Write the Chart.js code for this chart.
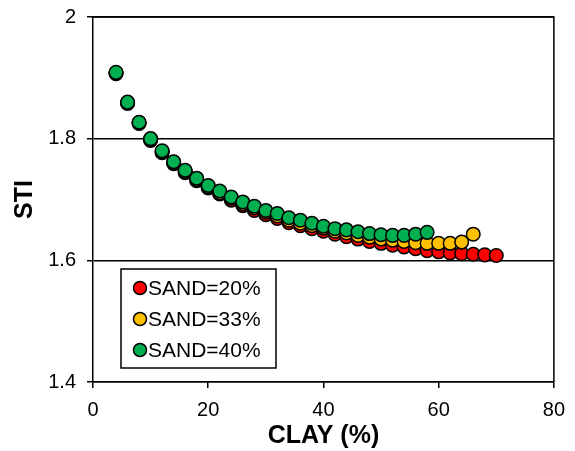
<!DOCTYPE html>
<html>
<head>
<meta charset="utf-8">
<script src="https://cdn.jsdelivr.net/npm/chart.js@4/dist/chart.umd.min.js"></script>
<style>
  body { margin: 0; background: #fff; }
</style>
</head>
<body>
<canvas id="stiChart" width="575" height="451"></canvas>
<script>
// CLAY (%) values per series
var clay20 = [4, 6, 8, 10, 12, 14, 16, 18, 20, 22, 24, 26, 28, 30, 32, 34, 36, 38, 40, 42, 44, 46, 48, 50, 52, 54, 56, 58, 60, 62, 64, 66, 68, 70];
var clay33 = [4, 6, 8, 10, 12, 14, 16, 18, 20, 22, 24, 26, 28, 30, 32, 34, 36, 38, 40, 42, 44, 46, 48, 50, 52, 54, 56, 58, 60, 62, 64, 66];
var clay40 = [4, 6, 8, 10, 12, 14, 16, 18, 20, 22, 24, 26, 28, 30, 32, 34, 36, 38, 40, 42, 44, 46, 48, 50, 52, 54, 56, 58];

// STI values
var sti20 = [1.907, 1.858, 1.825, 1.797, 1.777, 1.759, 1.744, 1.731, 1.719, 1.709, 1.699, 1.690, 1.682, 1.675, 1.669, 1.662, 1.657, 1.652, 1.648, 1.643, 1.639, 1.635, 1.631, 1.628, 1.625, 1.622, 1.619, 1.616, 1.614, 1.612, 1.611, 1.610, 1.609, 1.608];
var sti33 = [1.908, 1.859, 1.826, 1.799, 1.779, 1.761, 1.746, 1.733, 1.721, 1.711, 1.702, 1.693, 1.686, 1.679, 1.673, 1.666, 1.661, 1.657, 1.653, 1.648, 1.645, 1.641, 1.638, 1.635, 1.633, 1.631, 1.629, 1.628, 1.628, 1.628, 1.630, 1.643];
var sti40 = [1.909, 1.860, 1.827, 1.800, 1.780, 1.762, 1.748, 1.735, 1.723, 1.714, 1.704, 1.696, 1.689, 1.682, 1.677, 1.670, 1.666, 1.661, 1.656, 1.652, 1.650, 1.647, 1.644, 1.642, 1.641, 1.641, 1.643, 1.646];

var seriesLabels = ['SAND=20%', 'SAND=33%', 'SAND=40%'];
var seriesColors = ['#FF0000', '#FFC000', '#00B050'];

function toPoints(xs, ys) {
    return xs.map(function (x, i) { return { x: x, y: ys[i] }; });
}

var fontFamily = '"Liberation Sans", Arial, Helvetica, sans-serif';

// draws top/right border of plot area
var framePlugin = {
    id: 'frame',
    afterDraw: function (chart) {
        var ctx = chart.ctx, a = chart.chartArea;
        ctx.save();
        ctx.strokeStyle = '#000';
        ctx.lineWidth = 1.5;
        ctx.beginPath();
        ctx.moveTo(a.left, a.top);
        ctx.lineTo(a.right, a.top);
        ctx.lineTo(a.right, a.bottom);
        ctx.stroke();
        ctx.restore();
    }
};

// legend box inside the plot, lower left
var boxLegend = {
    id: 'boxLegend',
    afterDraw: function (chart) {
        var ctx = chart.ctx;
        var x0 = 121, y0 = 269, w = 155, h = 99;
        ctx.save();
        ctx.fillStyle = '#fff';
        ctx.fillRect(x0, y0, w, h);
        ctx.strokeStyle = '#000';
        ctx.lineWidth = 1.5;
        ctx.strokeRect(x0, y0, w, h);
        ctx.font = '21px ' + fontFamily;
        ctx.textBaseline = 'middle';
        ctx.textAlign = 'left';
        var rows = [288, 319, 350];
        chart.data.datasets.forEach(function (ds, i) {
            ctx.beginPath();
            ctx.arc(140, rows[i], 6.5, 0, Math.PI * 2);
            ctx.fillStyle = ds.backgroundColor;
            ctx.fill();
            ctx.lineWidth = 1.5;
            ctx.strokeStyle = '#000';
            ctx.stroke();
            ctx.fillStyle = '#000';
            ctx.fillText(ds.label, 148, rows[i] + 1);
        });
        ctx.restore();
    }
};

var datasets = [
    { label: seriesLabels[0], data: toPoints(clay20, sti20), backgroundColor: seriesColors[0], order: 2 },
    { label: seriesLabels[1], data: toPoints(clay33, sti33), backgroundColor: seriesColors[1], order: 1 },
    { label: seriesLabels[2], data: toPoints(clay40, sti40), backgroundColor: seriesColors[2], order: 0 }
];
datasets.forEach(function (ds) {
    ds.borderColor = '#000';
    ds.borderWidth = 1.5;
    ds.pointRadius = 6.8;
    ds.pointHoverRadius = 6.8;
});

var ctx = document.getElementById('stiChart').getContext('2d');
var chart = new Chart(ctx, {
    type: 'scatter',
    data: { datasets: datasets },
    options: {
        responsive: false,
        animation: false,
        layout: { padding: { left: 0, top: 17, right: 20, bottom: 0 } },
        plugins: {
            legend: { display: false },
            tooltip: { enabled: false }
        },
        scales: {
            x: {
                min: 0,
                max: 80,
                afterFit: function (s) { s.height = 69; },
                ticks: { stepSize: 20, color: '#000', padding: 10, font: { size: 20, family: fontFamily } },
                grid: { drawOnChartArea: false, color: '#000', lineWidth: 1.5, tickLength: 6 },
                border: { color: '#000', width: 1.5 },
                title: { display: true, text: 'CLAY (%)', color: '#000', padding: { top: 0, bottom: 0 }, font: { size: 25, weight: 'bold', family: fontFamily } }
            },
            y: {
                min: 1.4,
                max: 2,
                afterFit: function (s) {
                    s.width = 93;
                    s.paddingTop = 0;
                    s.paddingBottom = 0;
                },
                ticks: {
                    stepSize: 0.2,
                    color: '#000',
                    padding: 11,
                    font: { size: 20, family: fontFamily },
                    callback: function (v) { return String(Number(v.toFixed(1))); }
                },
                grid: { color: '#000', lineWidth: 1.5, tickLength: 6 },
                border: { color: '#000', width: 1.5 },
                title: { display: true, text: 'STI', color: '#000', padding: { top: 10, bottom: 0 }, font: { size: 25, weight: 'bold', family: fontFamily } }
            }
        }
    },
    plugins: [framePlugin, boxLegend]
});
</script>
</body>
</html>
